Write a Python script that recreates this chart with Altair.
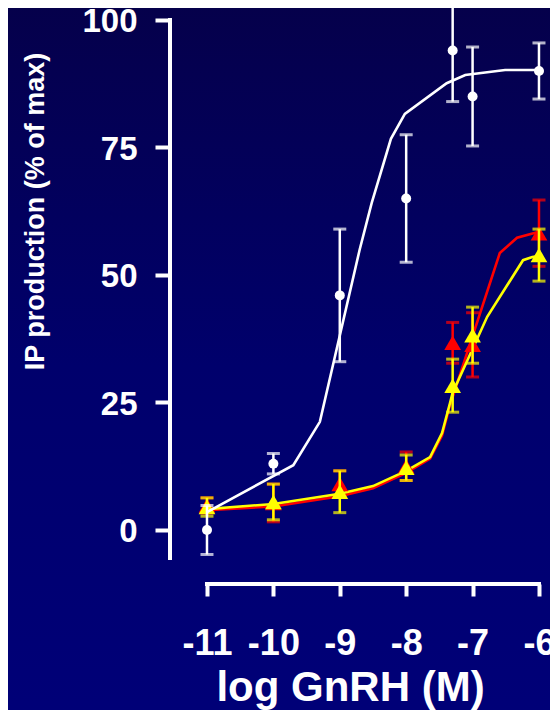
import altair as alt
import pandas as pd

# ---- data ----
dose_pts = [-11, -10, -9, -8, -7.3, -7, -6]
mean_white = [0, 13, 46, 65, 94, 85, 90]
err_white = [4.8, 2, 13, 12.5, 10, 9.7, 5.5]
mean_red = [4.8, 5.3, 9, 12.5, 36.7, 36.3, 58.2]
err_red = [1.5, 3.7, 2.6, 2.8, 4, 6.3, 6.5]
mean_yellow = [4.5, 5.5, 7.5, 12.2, 28.3, 38.2, 53.9]
err_yellow = [1.8, 3.5, 4.1, 2.5, 5.2, 5.5, 5.1]

curve_white_x = [-11, -9.7, -9.3, -8.7, -8.52, -8.23, -8.02, -7.39, -7.11, -6.51, -6]
curve_white_y = [3.5, 12.7, 21.2, 55, 64.1, 76.7, 81.6, 87.6, 89.2, 90.2, 90.2]
curve_red_x = [-11, -10, -9, -8.5, -8, -7.64, -7.46, -7.34, -6.59, -6.33, -6]
curve_red_y = [3.9, 4.6, 6.6, 8.2, 11.2, 14, 18.5, 24.5, 54.3, 57.3, 58.5]
curve_yellow_x = [-11, -10, -9, -8.5, -8, -7.64, -7.46, -7.34, -7.3, -6.78, -6.24, -6.1, -6]
curve_yellow_y = [4.1, 5.1, 7.1, 8.6, 11.6, 14.3, 19, 24.9, 26.9, 41.8, 52.9, 53.5, 53.7]

x_ticks = [-11, -10, -9, -8, -7, -6]
y_ticks = [0, 25, 50, 75, 100]
x_title = "log GnRH (M)"
y_title = "IP production (% of max)"

FONT = "Liberation Sans"
W, H = 380, 576

xscale = alt.Scale(domain=[-11.557, -5.834], nice=False, zero=False)
yscale = alt.Scale(domain=[-10.59, 102.35], nice=False, zero=False)

xaxis = alt.Axis(values=x_ticks, domain=False, grid=False, tickColor="white", tickWidth=4,
                 tickSize=12, labelColor="white", labelFont=FONT, labelFontWeight="bold",
                 labelFontSize=36, labelPadding=58, labelBaseline="alphabetic",
                 labelFlush=False, labelOverlap=False,
                 labelExpr="datum.value == -6 ? '-6\u00a0' : '' + datum.value",
                 title=x_title, titleColor="white", titleFont=FONT, titleFontWeight="bold",
                 titleFontSize=42, titleX=180, titleY=116, titleAlign="center",
                 titleBaseline="alphabetic", zindex=1)
yaxis = alt.Axis(values=y_ticks, domain=False, grid=False, tickColor="white", tickWidth=4,
                 tickSize=15, labelColor="white", labelFont=FONT, labelFontWeight="bold",
                 labelFontSize=33, labelPadding=18, labelOffset=2, labelOverlap=False,
                 labelFlush=False,
                 title=y_title, titleColor="white", titleFont=FONT, titleFontWeight="bold",
                 titleFontSize=27, titleAngle=270, titleX=-135, titleY=203,
                 titleAlign="center", titleBaseline="middle", zindex=1)


def X(f):
    return alt.X(f, type="quantitative", scale=xscale, axis=xaxis)


def Y(f):
    return alt.Y(f, type="quantitative", scale=yscale, axis=yaxis)


def pts_df(means, errs):
    return pd.DataFrame({"dose": dose_pts, "mean": means,
                         "lo": [m - e for m, e in zip(means, errs)],
                         "hi": [m + e for m, e in zip(means, errs)]})


white = pts_df(mean_white, err_white)
red = pts_df(mean_red, err_red)
yellow = pts_df(mean_yellow, err_yellow)

bg = alt.Chart(pd.DataFrame({"a": [0]})).mark_rect(
    fill=alt.LinearGradient(gradient="linear",
                            stops=[alt.GradientStop(color="#05004a", offset=0),
                                   alt.GradientStop(color="#00006c", offset=0.5),
                                   alt.GradientStop(color="#000078", offset=1)],
                            x1=0, x2=0, y1=0, y2=1)
).encode(x=alt.value(-170), x2=alt.value(W + 20), y=alt.value(-10), y2=alt.value(H + 150))


def curve(xs, ys, color):
    return alt.Chart(pd.DataFrame({"dose": xs, "v": ys})).mark_line(
        color=color, strokeWidth=2.6).encode(x=X("dose"), y=Y("v"), order="dose:Q")


def bars(df, color):
    rule = alt.Chart(df).mark_rule(color=color, strokeWidth=2.5).encode(
        x=X("dose"), y=Y("lo"), y2=alt.Y2("hi"))
    cap_hi = alt.Chart(df).mark_tick(color=color, orient="horizontal", size=13,
                                     thickness=3).encode(x=X("dose"), y=Y("hi"))
    cap_lo = alt.Chart(df).mark_tick(color=color, orient="horizontal", size=13,
                                     thickness=3).encode(x=X("dose"), y=Y("lo"))
    return [rule, cap_hi, cap_lo]


def tri(df, color):
    return alt.Chart(df).mark_point(shape="triangle-up", filled=True, color=color,
                                    size=280, opacity=1).encode(x=X("dose"), y=Y("mean"))


yax = alt.Chart(pd.DataFrame({"lo": [-5.5], "hi": [100]})).mark_rule(
    color="white", strokeWidth=4, strokeCap="square").encode(
    x=alt.value(0), y=Y("lo"), y2=alt.Y2("hi"))
xax = alt.Chart(pd.DataFrame({"lo": [-11], "hi": [-6]})).mark_rule(
    color="white", strokeWidth=4, strokeCap="square").encode(
    y=alt.value(H), x=X("lo"), x2=alt.X2("hi"))

white_pts = alt.Chart(white).mark_point(shape="circle", filled=True, color="white",
                                         size=100, opacity=1).encode(x=X("dose"), y=Y("mean"))

layers = [bg, yax, xax,
          curve(curve_red_x, curve_red_y, "#ff0000"),
          curve(curve_yellow_x, curve_yellow_y, "#ffff00"),
          *bars(red, "#ff0000"), tri(red, "#ff0000"),
          *bars(yellow, "#ffff00"), tri(yellow, "#ffff00"),
          curve(curve_white_x, curve_white_y, "white"),
          *bars(white, "white"), white_pts]

chart = alt.layer(*layers).properties(
    width=W, height=H, autosize="none",
    padding={"left": 162, "top": 0, "right": 0, "bottom": 126},
    background="#000070"
).configure_view(stroke=None)

chart.save("out.html", embed_options={"renderer": "svg", "actions": False})
